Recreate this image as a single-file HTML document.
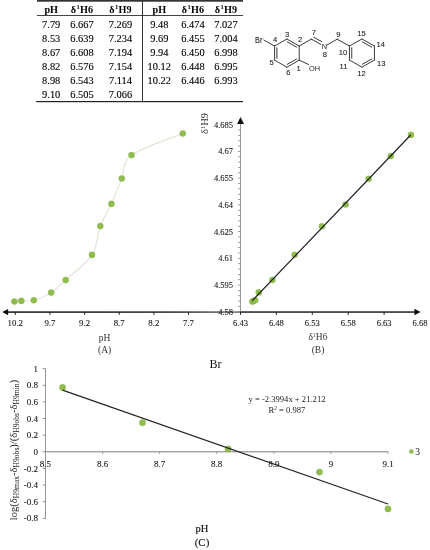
<!DOCTYPE html>
<html><head><meta charset="utf-8"><style>
html,body{margin:0;padding:0;background:#fff;width:430px;height:550px;overflow:hidden}
svg{display:block}
</style></head><body>
<svg width="430" height="550" viewBox="0 0 430 550">
<rect width="430" height="550" fill="#fff"/>
<rect x="37" y="0" width="206" height="1.7" fill="#333"/>
<rect x="37" y="15" width="206" height="1" fill="#444"/>
<rect x="36.2" y="101" width="206.8" height="1.2" fill="#222"/>
<rect x="142" y="1" width="1" height="101" fill="#333"/>
<text x="51.2" y="12.7" font-size="10.2" text-anchor="middle" font-weight="bold" fill="#000" font-family='"Liberation Serif", serif' >pH</text>
<text x="82" y="12.7" font-size="10.2" text-anchor="middle" font-weight="bold" fill="#000" font-family='"Liberation Serif", serif' >δ<tspan font-size="6.5" dy="-3.6" dx="0.4">1</tspan><tspan dy="3.6" dx="0.3">H6</tspan></text>
<text x="120.5" y="12.7" font-size="10.2" text-anchor="middle" font-weight="bold" fill="#000" font-family='"Liberation Serif", serif' >δ<tspan font-size="6.5" dy="-3.6" dx="0.4">1</tspan><tspan dy="3.6" dx="0.3">H9</tspan></text>
<text x="159.3" y="12.7" font-size="10.2" text-anchor="middle" font-weight="bold" fill="#000" font-family='"Liberation Serif", serif' >pH</text>
<text x="193" y="12.7" font-size="10.2" text-anchor="middle" font-weight="bold" fill="#000" font-family='"Liberation Serif", serif' >δ<tspan font-size="6.5" dy="-3.6" dx="0.4">1</tspan><tspan dy="3.6" dx="0.3">H6</tspan></text>
<text x="226" y="12.7" font-size="10.2" text-anchor="middle" font-weight="bold" fill="#000" font-family='"Liberation Serif", serif' >δ<tspan font-size="6.5" dy="-3.6" dx="0.4">1</tspan><tspan dy="3.6" dx="0.3">H9</tspan></text>
<text x="51.2" y="27.5" font-size="10.4" text-anchor="middle" font-weight="normal" fill="#000" stroke="#000" stroke-width="0.12" font-family='"Liberation Serif", serif' >7.79</text>
<text x="82" y="27.5" font-size="10.4" text-anchor="middle" font-weight="normal" fill="#000" stroke="#000" stroke-width="0.12" font-family='"Liberation Serif", serif' >6.667</text>
<text x="120.5" y="27.5" font-size="10.4" text-anchor="middle" font-weight="normal" fill="#000" stroke="#000" stroke-width="0.12" font-family='"Liberation Serif", serif' >7.269</text>
<text x="51.2" y="41.6" font-size="10.4" text-anchor="middle" font-weight="normal" fill="#000" stroke="#000" stroke-width="0.12" font-family='"Liberation Serif", serif' >8.53</text>
<text x="82" y="41.6" font-size="10.4" text-anchor="middle" font-weight="normal" fill="#000" stroke="#000" stroke-width="0.12" font-family='"Liberation Serif", serif' >6.639</text>
<text x="120.5" y="41.6" font-size="10.4" text-anchor="middle" font-weight="normal" fill="#000" stroke="#000" stroke-width="0.12" font-family='"Liberation Serif", serif' >7.234</text>
<text x="51.2" y="55.7" font-size="10.4" text-anchor="middle" font-weight="normal" fill="#000" stroke="#000" stroke-width="0.12" font-family='"Liberation Serif", serif' >8.67</text>
<text x="82" y="55.7" font-size="10.4" text-anchor="middle" font-weight="normal" fill="#000" stroke="#000" stroke-width="0.12" font-family='"Liberation Serif", serif' >6.608</text>
<text x="120.5" y="55.7" font-size="10.4" text-anchor="middle" font-weight="normal" fill="#000" stroke="#000" stroke-width="0.12" font-family='"Liberation Serif", serif' >7.194</text>
<text x="51.2" y="69.8" font-size="10.4" text-anchor="middle" font-weight="normal" fill="#000" stroke="#000" stroke-width="0.12" font-family='"Liberation Serif", serif' >8.82</text>
<text x="82" y="69.8" font-size="10.4" text-anchor="middle" font-weight="normal" fill="#000" stroke="#000" stroke-width="0.12" font-family='"Liberation Serif", serif' >6.576</text>
<text x="120.5" y="69.8" font-size="10.4" text-anchor="middle" font-weight="normal" fill="#000" stroke="#000" stroke-width="0.12" font-family='"Liberation Serif", serif' >7.154</text>
<text x="51.2" y="83.9" font-size="10.4" text-anchor="middle" font-weight="normal" fill="#000" stroke="#000" stroke-width="0.12" font-family='"Liberation Serif", serif' >8.98</text>
<text x="82" y="83.9" font-size="10.4" text-anchor="middle" font-weight="normal" fill="#000" stroke="#000" stroke-width="0.12" font-family='"Liberation Serif", serif' >6.543</text>
<text x="120.5" y="83.9" font-size="10.4" text-anchor="middle" font-weight="normal" fill="#000" stroke="#000" stroke-width="0.12" font-family='"Liberation Serif", serif' >7.114</text>
<text x="51.2" y="98.0" font-size="10.4" text-anchor="middle" font-weight="normal" fill="#000" stroke="#000" stroke-width="0.12" font-family='"Liberation Serif", serif' >9.10</text>
<text x="82" y="98.0" font-size="10.4" text-anchor="middle" font-weight="normal" fill="#000" stroke="#000" stroke-width="0.12" font-family='"Liberation Serif", serif' >6.505</text>
<text x="120.5" y="98.0" font-size="10.4" text-anchor="middle" font-weight="normal" fill="#000" stroke="#000" stroke-width="0.12" font-family='"Liberation Serif", serif' >7.066</text>
<text x="159.3" y="27.5" font-size="10.4" text-anchor="middle" font-weight="normal" fill="#000" stroke="#000" stroke-width="0.12" font-family='"Liberation Serif", serif' >9.48</text>
<text x="193" y="27.5" font-size="10.4" text-anchor="middle" font-weight="normal" fill="#000" stroke="#000" stroke-width="0.12" font-family='"Liberation Serif", serif' >6.474</text>
<text x="226" y="27.5" font-size="10.4" text-anchor="middle" font-weight="normal" fill="#000" stroke="#000" stroke-width="0.12" font-family='"Liberation Serif", serif' >7.027</text>
<text x="159.3" y="41.6" font-size="10.4" text-anchor="middle" font-weight="normal" fill="#000" stroke="#000" stroke-width="0.12" font-family='"Liberation Serif", serif' >9.69</text>
<text x="193" y="41.6" font-size="10.4" text-anchor="middle" font-weight="normal" fill="#000" stroke="#000" stroke-width="0.12" font-family='"Liberation Serif", serif' >6.455</text>
<text x="226" y="41.6" font-size="10.4" text-anchor="middle" font-weight="normal" fill="#000" stroke="#000" stroke-width="0.12" font-family='"Liberation Serif", serif' >7.004</text>
<text x="159.3" y="55.7" font-size="10.4" text-anchor="middle" font-weight="normal" fill="#000" stroke="#000" stroke-width="0.12" font-family='"Liberation Serif", serif' >9.94</text>
<text x="193" y="55.7" font-size="10.4" text-anchor="middle" font-weight="normal" fill="#000" stroke="#000" stroke-width="0.12" font-family='"Liberation Serif", serif' >6.450</text>
<text x="226" y="55.7" font-size="10.4" text-anchor="middle" font-weight="normal" fill="#000" stroke="#000" stroke-width="0.12" font-family='"Liberation Serif", serif' >6.998</text>
<text x="159.3" y="69.8" font-size="10.4" text-anchor="middle" font-weight="normal" fill="#000" stroke="#000" stroke-width="0.12" font-family='"Liberation Serif", serif' >10.12</text>
<text x="193" y="69.8" font-size="10.4" text-anchor="middle" font-weight="normal" fill="#000" stroke="#000" stroke-width="0.12" font-family='"Liberation Serif", serif' >6.448</text>
<text x="226" y="69.8" font-size="10.4" text-anchor="middle" font-weight="normal" fill="#000" stroke="#000" stroke-width="0.12" font-family='"Liberation Serif", serif' >6.995</text>
<text x="159.3" y="83.9" font-size="10.4" text-anchor="middle" font-weight="normal" fill="#000" stroke="#000" stroke-width="0.12" font-family='"Liberation Serif", serif' >10.22</text>
<text x="193" y="83.9" font-size="10.4" text-anchor="middle" font-weight="normal" fill="#000" stroke="#000" stroke-width="0.12" font-family='"Liberation Serif", serif' >6.446</text>
<text x="226" y="83.9" font-size="10.4" text-anchor="middle" font-weight="normal" fill="#000" stroke="#000" stroke-width="0.12" font-family='"Liberation Serif", serif' >6.993</text>
<line x1="286.90" y1="39.00" x2="299.20" y2="46.05" stroke="#3a3a3a" stroke-width="1.0" stroke-linecap="round"/>
<line x1="361.95" y1="39.00" x2="374.45" y2="46.02" stroke="#3a3a3a" stroke-width="1.0" stroke-linecap="round"/>
<line x1="299.20" y1="46.05" x2="299.20" y2="60.15" stroke="#3a3a3a" stroke-width="1.0" stroke-linecap="round"/>
<line x1="374.45" y1="46.02" x2="374.45" y2="60.07" stroke="#3a3a3a" stroke-width="1.0" stroke-linecap="round"/>
<line x1="299.20" y1="60.15" x2="286.90" y2="67.20" stroke="#3a3a3a" stroke-width="1.0" stroke-linecap="round"/>
<line x1="374.45" y1="60.07" x2="361.95" y2="67.10" stroke="#3a3a3a" stroke-width="1.0" stroke-linecap="round"/>
<line x1="286.90" y1="67.20" x2="274.60" y2="60.15" stroke="#3a3a3a" stroke-width="1.0" stroke-linecap="round"/>
<line x1="361.95" y1="67.10" x2="349.45" y2="60.07" stroke="#3a3a3a" stroke-width="1.0" stroke-linecap="round"/>
<line x1="274.60" y1="60.15" x2="274.60" y2="46.05" stroke="#3a3a3a" stroke-width="1.0" stroke-linecap="round"/>
<line x1="349.45" y1="60.07" x2="349.45" y2="46.02" stroke="#3a3a3a" stroke-width="1.0" stroke-linecap="round"/>
<line x1="274.60" y1="46.05" x2="286.90" y2="39.00" stroke="#3a3a3a" stroke-width="1.0" stroke-linecap="round"/>
<line x1="349.45" y1="46.02" x2="361.95" y2="39.00" stroke="#3a3a3a" stroke-width="1.0" stroke-linecap="round"/>
<line x1="287.22" y1="41.83" x2="296.57" y2="47.19" stroke="#3a3a3a" stroke-width="1.0" stroke-linecap="round"/>
<line x1="296.57" y1="59.01" x2="287.22" y2="64.37" stroke="#3a3a3a" stroke-width="1.0" stroke-linecap="round"/>
<line x1="276.90" y1="58.46" x2="276.90" y2="47.74" stroke="#3a3a3a" stroke-width="1.0" stroke-linecap="round"/>
<line x1="362.28" y1="41.82" x2="371.78" y2="47.16" stroke="#3a3a3a" stroke-width="1.0" stroke-linecap="round"/>
<line x1="371.78" y1="58.94" x2="362.28" y2="64.28" stroke="#3a3a3a" stroke-width="1.0" stroke-linecap="round"/>
<line x1="351.75" y1="58.39" x2="351.75" y2="47.71" stroke="#3a3a3a" stroke-width="1.0" stroke-linecap="round"/>
<line x1="299.20" y1="46.05" x2="311.40" y2="39.10" stroke="#3a3a3a" stroke-width="1.0" stroke-linecap="round"/>
<line x1="311.40" y1="39.10" x2="320.60" y2="44.30" stroke="#3a3a3a" stroke-width="1.0" stroke-linecap="round"/>
<line x1="313.60" y1="37.20" x2="321.70" y2="41.60" stroke="#3a3a3a" stroke-width="1.0" stroke-linecap="round"/>
<line x1="326.80" y1="45.20" x2="337.10" y2="39.20" stroke="#3a3a3a" stroke-width="1.0" stroke-linecap="round"/>
<line x1="337.10" y1="39.20" x2="349.45" y2="46.02" stroke="#3a3a3a" stroke-width="1.0" stroke-linecap="round"/>
<line x1="274.60" y1="46.05" x2="263.80" y2="40.00" stroke="#3a3a3a" stroke-width="1.0" stroke-linecap="round"/>
<line x1="299.20" y1="60.15" x2="308.60" y2="64.50" stroke="#3a3a3a" stroke-width="1.0" stroke-linecap="round"/>
<text x="255.1" y="42.6" font-size="8.4" text-anchor="start" font-weight="normal" fill="#222" stroke="#222" stroke-width="0.1" font-family='"Liberation Sans", sans-serif' textLength="7.3" lengthAdjust="spacingAndGlyphs">Br</text>
<text x="324.4" y="49.2" font-size="7.4" text-anchor="middle" font-weight="normal" fill="#222" font-family='"Liberation Sans", sans-serif' >N</text>
<text x="314.6" y="70.8" font-size="7.4" text-anchor="middle" font-weight="normal" fill="#222" font-family='"Liberation Sans", sans-serif' >OH</text>
<text x="300" y="42.25" font-size="7.6" text-anchor="middle" font-weight="normal" fill="#222" stroke="#222" stroke-width="0.1" font-family='"Liberation Sans", sans-serif' >2</text>
<text x="287.2" y="37.05" font-size="7.6" text-anchor="middle" font-weight="normal" fill="#222" stroke="#222" stroke-width="0.1" font-family='"Liberation Sans", sans-serif' >3</text>
<text x="275" y="42.25" font-size="7.6" text-anchor="middle" font-weight="normal" fill="#222" stroke="#222" stroke-width="0.1" font-family='"Liberation Sans", sans-serif' >4</text>
<text x="271.5" y="64.95" font-size="7.6" text-anchor="middle" font-weight="normal" fill="#222" stroke="#222" stroke-width="0.1" font-family='"Liberation Sans", sans-serif' >5</text>
<text x="288.4" y="75.45" font-size="7.6" text-anchor="middle" font-weight="normal" fill="#222" stroke="#222" stroke-width="0.1" font-family='"Liberation Sans", sans-serif' >6</text>
<text x="298.6" y="71.15" font-size="7.6" text-anchor="middle" font-weight="normal" fill="#222" stroke="#222" stroke-width="0.1" font-family='"Liberation Sans", sans-serif' >1</text>
<text x="313.9" y="35.45" font-size="7.6" text-anchor="middle" font-weight="normal" fill="#222" stroke="#222" stroke-width="0.1" font-family='"Liberation Sans", sans-serif' >7</text>
<text x="324.9" y="57.35" font-size="7.6" text-anchor="middle" font-weight="normal" fill="#222" stroke="#222" stroke-width="0.1" font-family='"Liberation Sans", sans-serif' >8</text>
<text x="338.3" y="36.75" font-size="7.6" text-anchor="middle" font-weight="normal" fill="#222" stroke="#222" stroke-width="0.1" font-family='"Liberation Sans", sans-serif' >9</text>
<text x="342.9" y="54.75" font-size="7.6" text-anchor="middle" font-weight="normal" fill="#222" stroke="#222" stroke-width="0.1" font-family='"Liberation Sans", sans-serif' >10</text>
<text x="343.5" y="68.75" font-size="7.6" text-anchor="middle" font-weight="normal" fill="#222" stroke="#222" stroke-width="0.1" font-family='"Liberation Sans", sans-serif' >11</text>
<text x="361.5" y="75.75" font-size="7.6" text-anchor="middle" font-weight="normal" fill="#222" stroke="#222" stroke-width="0.1" font-family='"Liberation Sans", sans-serif' >12</text>
<text x="381.3" y="65.55" font-size="7.6" text-anchor="middle" font-weight="normal" fill="#222" stroke="#222" stroke-width="0.1" font-family='"Liberation Sans", sans-serif' >13</text>
<text x="380.7" y="46.95" font-size="7.6" text-anchor="middle" font-weight="normal" fill="#222" stroke="#222" stroke-width="0.1" font-family='"Liberation Sans", sans-serif' >14</text>
<text x="361.5" y="36.45" font-size="7.6" text-anchor="middle" font-weight="normal" fill="#222" stroke="#222" stroke-width="0.1" font-family='"Liberation Sans", sans-serif' >15</text>
<path d="M14.41,301.50 C15.57,301.40 18.11,301.10 21.34,300.90 C24.58,300.70 28.85,301.68 33.81,300.30 C38.78,298.92 45.82,295.97 51.13,292.60 C56.44,289.23 58.87,286.38 65.68,280.10 C72.49,273.82 86.23,263.90 92.01,254.90 C97.78,245.90 97.09,234.60 100.32,226.10 C103.55,217.60 107.83,211.83 111.41,203.90 C114.99,195.97 118.45,186.63 121.80,178.50 C125.15,170.37 121.34,162.60 131.50,155.10 C141.66,147.60 174.22,137.10 182.76,133.50" fill="none" stroke="#e1e4d2" stroke-width="1.1"/>
<circle cx="14.41" cy="301.50" r="3.05" fill="#8fbc4c" stroke="#86b244" stroke-width="0.4"/>
<circle cx="21.34" cy="300.90" r="3.05" fill="#8fbc4c" stroke="#86b244" stroke-width="0.4"/>
<circle cx="33.81" cy="300.30" r="3.05" fill="#8fbc4c" stroke="#86b244" stroke-width="0.4"/>
<circle cx="51.13" cy="292.60" r="3.05" fill="#8fbc4c" stroke="#86b244" stroke-width="0.4"/>
<circle cx="65.68" cy="280.10" r="3.05" fill="#8fbc4c" stroke="#86b244" stroke-width="0.4"/>
<circle cx="92.01" cy="254.90" r="3.05" fill="#8fbc4c" stroke="#86b244" stroke-width="0.4"/>
<circle cx="100.32" cy="226.10" r="3.05" fill="#8fbc4c" stroke="#86b244" stroke-width="0.4"/>
<circle cx="111.41" cy="203.90" r="3.05" fill="#8fbc4c" stroke="#86b244" stroke-width="0.4"/>
<circle cx="121.80" cy="178.50" r="3.05" fill="#8fbc4c" stroke="#86b244" stroke-width="0.4"/>
<circle cx="131.50" cy="155.10" r="3.05" fill="#8fbc4c" stroke="#86b244" stroke-width="0.4"/>
<circle cx="182.76" cy="133.50" r="3.05" fill="#8fbc4c" stroke="#86b244" stroke-width="0.4"/>
<defs><linearGradient id="ga" x1="0" x2="1" y1="0" y2="0"><stop offset="0" stop-color="#222"/><stop offset="0.7" stop-color="#333"/><stop offset="1" stop-color="#777"/></linearGradient></defs>
<rect x="6" y="311.3" width="234.5" height="1.6" fill="url(#ga)"/>
<path d="M2.2,312.1 L8.1,308.9 L8.1,315.3 Z" fill="#111"/>
<rect x="14.80" y="312" width="1" height="2.8" fill="#222"/>
<text x="15.30" y="325.8" font-size="8.8" text-anchor="middle" font-weight="normal" fill="#1a1a1a" stroke="#1a1a1a" stroke-width="0.1" font-family='"Liberation Serif", serif' >10.2</text>
<rect x="49.44" y="312" width="1" height="2.8" fill="#222"/>
<text x="49.94" y="325.8" font-size="8.8" text-anchor="middle" font-weight="normal" fill="#1a1a1a" stroke="#1a1a1a" stroke-width="0.1" font-family='"Liberation Serif", serif' >9.7</text>
<rect x="84.08" y="312" width="1" height="2.8" fill="#222"/>
<text x="84.58" y="325.8" font-size="8.8" text-anchor="middle" font-weight="normal" fill="#1a1a1a" stroke="#1a1a1a" stroke-width="0.1" font-family='"Liberation Serif", serif' >9.2</text>
<rect x="118.72" y="312" width="1" height="2.8" fill="#222"/>
<text x="119.22" y="325.8" font-size="8.8" text-anchor="middle" font-weight="normal" fill="#1a1a1a" stroke="#1a1a1a" stroke-width="0.1" font-family='"Liberation Serif", serif' >8.7</text>
<rect x="153.36" y="312" width="1" height="2.8" fill="#222"/>
<text x="153.86" y="325.8" font-size="8.8" text-anchor="middle" font-weight="normal" fill="#1a1a1a" stroke="#1a1a1a" stroke-width="0.1" font-family='"Liberation Serif", serif' >8.2</text>
<rect x="188.00" y="312" width="1" height="2.8" fill="#222"/>
<text x="188.50" y="325.8" font-size="8.8" text-anchor="middle" font-weight="normal" fill="#1a1a1a" stroke="#1a1a1a" stroke-width="0.1" font-family='"Liberation Serif", serif' >7.7</text>
<text x="104.6" y="340.6" font-size="9.5" text-anchor="middle" font-weight="normal" fill="#333" font-family='"Liberation Serif", serif' >pH</text>
<text x="104.6" y="352.5" font-size="9.5" text-anchor="middle" font-weight="normal" fill="#333" font-family='"Liberation Serif", serif' >(A)</text>
<rect x="240" y="123" width="1" height="189" fill="#999"/>
<path d="M240.5,117 L237.1,124 L244,124 Z" fill="#111"/>
<rect x="238" y="311.40" width="2.4" height="0.8" fill="#888"/>
<rect x="238" y="306.05" width="2.4" height="0.8" fill="#888"/>
<rect x="238" y="300.71" width="2.4" height="0.8" fill="#888"/>
<rect x="238" y="295.36" width="2.4" height="0.8" fill="#888"/>
<rect x="238" y="290.02" width="2.4" height="0.8" fill="#888"/>
<rect x="238" y="284.67" width="2.4" height="0.8" fill="#888"/>
<rect x="238" y="279.32" width="2.4" height="0.8" fill="#888"/>
<rect x="238" y="273.98" width="2.4" height="0.8" fill="#888"/>
<rect x="238" y="268.63" width="2.4" height="0.8" fill="#888"/>
<rect x="238" y="263.29" width="2.4" height="0.8" fill="#888"/>
<rect x="238" y="257.94" width="2.4" height="0.8" fill="#888"/>
<rect x="238" y="252.59" width="2.4" height="0.8" fill="#888"/>
<rect x="238" y="247.25" width="2.4" height="0.8" fill="#888"/>
<rect x="238" y="241.90" width="2.4" height="0.8" fill="#888"/>
<rect x="238" y="236.56" width="2.4" height="0.8" fill="#888"/>
<rect x="238" y="231.21" width="2.4" height="0.8" fill="#888"/>
<rect x="238" y="225.86" width="2.4" height="0.8" fill="#888"/>
<rect x="238" y="220.52" width="2.4" height="0.8" fill="#888"/>
<rect x="238" y="215.17" width="2.4" height="0.8" fill="#888"/>
<rect x="238" y="209.83" width="2.4" height="0.8" fill="#888"/>
<rect x="238" y="204.48" width="2.4" height="0.8" fill="#888"/>
<rect x="238" y="199.13" width="2.4" height="0.8" fill="#888"/>
<rect x="238" y="193.79" width="2.4" height="0.8" fill="#888"/>
<rect x="238" y="188.44" width="2.4" height="0.8" fill="#888"/>
<rect x="238" y="183.10" width="2.4" height="0.8" fill="#888"/>
<rect x="238" y="177.75" width="2.4" height="0.8" fill="#888"/>
<rect x="238" y="172.40" width="2.4" height="0.8" fill="#888"/>
<rect x="238" y="167.06" width="2.4" height="0.8" fill="#888"/>
<rect x="238" y="161.71" width="2.4" height="0.8" fill="#888"/>
<rect x="238" y="156.37" width="2.4" height="0.8" fill="#888"/>
<rect x="238" y="151.02" width="2.4" height="0.8" fill="#888"/>
<rect x="238" y="145.67" width="2.4" height="0.8" fill="#888"/>
<rect x="238" y="140.33" width="2.4" height="0.8" fill="#888"/>
<rect x="238" y="134.98" width="2.4" height="0.8" fill="#888"/>
<rect x="238" y="129.64" width="2.4" height="0.8" fill="#888"/>
<text x="233" y="314.70" font-size="8.5" text-anchor="end" font-weight="normal" fill="#1a1a1a" stroke="#1a1a1a" stroke-width="0.1" font-family='"Liberation Serif", serif' >4.58</text>
<text x="233" y="287.97" font-size="8.5" text-anchor="end" font-weight="normal" fill="#1a1a1a" stroke="#1a1a1a" stroke-width="0.1" font-family='"Liberation Serif", serif' >4.595</text>
<text x="233" y="261.24" font-size="8.5" text-anchor="end" font-weight="normal" fill="#1a1a1a" stroke="#1a1a1a" stroke-width="0.1" font-family='"Liberation Serif", serif' >4.61</text>
<text x="233" y="234.51" font-size="8.5" text-anchor="end" font-weight="normal" fill="#1a1a1a" stroke="#1a1a1a" stroke-width="0.1" font-family='"Liberation Serif", serif' >4.625</text>
<text x="233" y="207.78" font-size="8.5" text-anchor="end" font-weight="normal" fill="#1a1a1a" stroke="#1a1a1a" stroke-width="0.1" font-family='"Liberation Serif", serif' >4.64</text>
<text x="233" y="181.05" font-size="8.5" text-anchor="end" font-weight="normal" fill="#1a1a1a" stroke="#1a1a1a" stroke-width="0.1" font-family='"Liberation Serif", serif' >4.655</text>
<text x="233" y="154.32" font-size="8.5" text-anchor="end" font-weight="normal" fill="#1a1a1a" stroke="#1a1a1a" stroke-width="0.1" font-family='"Liberation Serif", serif' >4.67</text>
<text x="233" y="127.59" font-size="8.5" text-anchor="end" font-weight="normal" fill="#1a1a1a" stroke="#1a1a1a" stroke-width="0.1" font-family='"Liberation Serif", serif' >4.685</text>
<rect x="240.5" y="311.3" width="175" height="1.5" fill="#222"/>
<path d="M420.5,312 L414.4,308.7 L414.4,315.2 Z" fill="#111"/>
<rect x="240.00" y="312" width="1" height="2.8" fill="#222"/>
<text x="240.50" y="325.7" font-size="8.5" text-anchor="middle" font-weight="normal" fill="#1a1a1a" stroke="#1a1a1a" stroke-width="0.1" font-family='"Liberation Serif", serif' >6.43</text>
<rect x="275.90" y="312" width="1" height="2.8" fill="#222"/>
<text x="276.40" y="325.7" font-size="8.5" text-anchor="middle" font-weight="normal" fill="#1a1a1a" stroke="#1a1a1a" stroke-width="0.1" font-family='"Liberation Serif", serif' >6.48</text>
<rect x="311.80" y="312" width="1" height="2.8" fill="#222"/>
<text x="312.30" y="325.7" font-size="8.5" text-anchor="middle" font-weight="normal" fill="#1a1a1a" stroke="#1a1a1a" stroke-width="0.1" font-family='"Liberation Serif", serif' >6.53</text>
<rect x="347.70" y="312" width="1" height="2.8" fill="#222"/>
<text x="348.20" y="325.7" font-size="8.5" text-anchor="middle" font-weight="normal" fill="#1a1a1a" stroke="#1a1a1a" stroke-width="0.1" font-family='"Liberation Serif", serif' >6.58</text>
<rect x="383.60" y="312" width="1" height="2.8" fill="#222"/>
<text x="384.10" y="325.7" font-size="8.5" text-anchor="middle" font-weight="normal" fill="#1a1a1a" stroke="#1a1a1a" stroke-width="0.1" font-family='"Liberation Serif", serif' >6.63</text>
<text x="420.00" y="325.7" font-size="8.5" text-anchor="middle" font-weight="normal" fill="#1a1a1a" stroke="#1a1a1a" stroke-width="0.1" font-family='"Liberation Serif", serif' >6.68</text>

<circle cx="252.29" cy="301.60" r="3.05" fill="#8fbc4c" stroke="#86b244" stroke-width="0.4"/>
<circle cx="253.72" cy="301.00" r="3.05" fill="#8fbc4c" stroke="#86b244" stroke-width="0.4"/>
<circle cx="255.16" cy="300.20" r="3.05" fill="#8fbc4c" stroke="#86b244" stroke-width="0.4"/>
<circle cx="258.75" cy="292.40" r="3.05" fill="#8fbc4c" stroke="#86b244" stroke-width="0.4"/>
<circle cx="272.39" cy="280.00" r="3.05" fill="#8fbc4c" stroke="#86b244" stroke-width="0.4"/>
<circle cx="294.65" cy="254.80" r="3.05" fill="#8fbc4c" stroke="#86b244" stroke-width="0.4"/>
<circle cx="321.93" cy="226.30" r="3.05" fill="#8fbc4c" stroke="#86b244" stroke-width="0.4"/>
<circle cx="345.63" cy="204.50" r="3.05" fill="#8fbc4c" stroke="#86b244" stroke-width="0.4"/>
<circle cx="368.60" cy="178.70" r="3.05" fill="#8fbc4c" stroke="#86b244" stroke-width="0.4"/>
<circle cx="390.86" cy="156.10" r="3.05" fill="#8fbc4c" stroke="#86b244" stroke-width="0.4"/>
<circle cx="410.97" cy="134.90" r="3.05" fill="#8fbc4c" stroke="#86b244" stroke-width="0.4"/>
<line x1="252.1" y1="300.9" x2="410.7" y2="135.0" stroke="#1a1a1a" stroke-width="1.15"/>
<text x="318" y="340.3" font-size="9.5" text-anchor="middle" font-weight="normal" fill="#333" font-family='"Liberation Serif", serif' >δ<tspan font-size="5.5" dy="-3">1</tspan><tspan dy="3">H6</tspan></text>
<text x="318" y="352.5" font-size="9.5" text-anchor="middle" font-weight="normal" fill="#333" font-family='"Liberation Serif", serif' >(B)</text>
<text x="0" y="0" font-size="10.5" text-anchor="middle" font-weight="normal" fill="#333" font-family='"Liberation Serif", serif' transform="translate(208.4,123.4) rotate(-90)">δ<tspan font-size="6.5" dy="-3.5">1</tspan><tspan dy="3.5">H9</tspan></text>
<text x="215.4" y="367.6" font-size="12" text-anchor="middle" font-weight="normal" fill="#111" font-family='"Liberation Serif", serif' >Br</text>
<rect x="45" y="368.6" width="0.9" height="150.2" fill="#888"/>
<rect x="42.6" y="368.15" width="2.8" height="0.9" fill="#888"/>
<text x="38" y="371.70" font-size="9" text-anchor="end" font-weight="normal" fill="#1a1a1a" stroke="#1a1a1a" stroke-width="0.1" font-family='"Liberation Serif", serif' >1</text>
<rect x="42.6" y="384.79" width="2.8" height="0.9" fill="#888"/>
<text x="38" y="388.34" font-size="9" text-anchor="end" font-weight="normal" fill="#1a1a1a" stroke="#1a1a1a" stroke-width="0.1" font-family='"Liberation Serif", serif' >0.8</text>
<rect x="42.6" y="401.43" width="2.8" height="0.9" fill="#888"/>
<text x="38" y="404.98" font-size="9" text-anchor="end" font-weight="normal" fill="#1a1a1a" stroke="#1a1a1a" stroke-width="0.1" font-family='"Liberation Serif", serif' >0.6</text>
<rect x="42.6" y="418.07" width="2.8" height="0.9" fill="#888"/>
<text x="38" y="421.62" font-size="9" text-anchor="end" font-weight="normal" fill="#1a1a1a" stroke="#1a1a1a" stroke-width="0.1" font-family='"Liberation Serif", serif' >0.4</text>
<rect x="42.6" y="434.71" width="2.8" height="0.9" fill="#888"/>
<text x="38" y="438.26" font-size="9" text-anchor="end" font-weight="normal" fill="#1a1a1a" stroke="#1a1a1a" stroke-width="0.1" font-family='"Liberation Serif", serif' >0.2</text>
<rect x="42.6" y="451.35" width="2.8" height="0.9" fill="#888"/>
<text x="38" y="454.90" font-size="9" text-anchor="end" font-weight="normal" fill="#1a1a1a" stroke="#1a1a1a" stroke-width="0.1" font-family='"Liberation Serif", serif' >0</text>
<rect x="42.6" y="467.99" width="2.8" height="0.9" fill="#888"/>
<text x="38" y="471.54" font-size="9" text-anchor="end" font-weight="normal" fill="#1a1a1a" stroke="#1a1a1a" stroke-width="0.1" font-family='"Liberation Serif", serif' >-0.2</text>
<rect x="42.6" y="484.63" width="2.8" height="0.9" fill="#888"/>
<text x="38" y="488.18" font-size="9" text-anchor="end" font-weight="normal" fill="#1a1a1a" stroke="#1a1a1a" stroke-width="0.1" font-family='"Liberation Serif", serif' >-0.4</text>
<rect x="42.6" y="501.27" width="2.8" height="0.9" fill="#888"/>
<text x="38" y="504.82" font-size="9" text-anchor="end" font-weight="normal" fill="#1a1a1a" stroke="#1a1a1a" stroke-width="0.1" font-family='"Liberation Serif", serif' >-0.6</text>
<rect x="42.6" y="517.91" width="2.8" height="0.9" fill="#888"/>
<text x="38" y="521.46" font-size="9" text-anchor="end" font-weight="normal" fill="#1a1a1a" stroke="#1a1a1a" stroke-width="0.1" font-family='"Liberation Serif", serif' >-0.8</text>
<rect x="45.4" y="451.1" width="342.6" height="1.3" fill="#999"/>
<rect x="45.00" y="451.5" width="0.9" height="2.6" fill="#999"/>
<text x="45.40" y="467" font-size="9" text-anchor="middle" font-weight="normal" fill="#1a1a1a" stroke="#1a1a1a" stroke-width="0.1" font-family='"Liberation Serif", serif' >8.5</text>
<rect x="102.10" y="451.5" width="0.9" height="2.6" fill="#999"/>
<text x="102.50" y="467" font-size="9" text-anchor="middle" font-weight="normal" fill="#1a1a1a" stroke="#1a1a1a" stroke-width="0.1" font-family='"Liberation Serif", serif' >8.6</text>
<rect x="159.20" y="451.5" width="0.9" height="2.6" fill="#999"/>
<text x="159.60" y="467" font-size="9" text-anchor="middle" font-weight="normal" fill="#1a1a1a" stroke="#1a1a1a" stroke-width="0.1" font-family='"Liberation Serif", serif' >8.7</text>
<rect x="216.30" y="451.5" width="0.9" height="2.6" fill="#999"/>
<text x="216.70" y="467" font-size="9" text-anchor="middle" font-weight="normal" fill="#1a1a1a" stroke="#1a1a1a" stroke-width="0.1" font-family='"Liberation Serif", serif' >8.8</text>
<rect x="273.40" y="451.5" width="0.9" height="2.6" fill="#999"/>
<text x="273.80" y="467" font-size="9" text-anchor="middle" font-weight="normal" fill="#1a1a1a" stroke="#1a1a1a" stroke-width="0.1" font-family='"Liberation Serif", serif' >8.9</text>
<rect x="330.50" y="451.5" width="0.9" height="2.6" fill="#999"/>
<text x="330.90" y="467" font-size="9" text-anchor="middle" font-weight="normal" fill="#1a1a1a" stroke="#1a1a1a" stroke-width="0.1" font-family='"Liberation Serif", serif' >9</text>
<rect x="387.60" y="451.5" width="0.9" height="2.6" fill="#999"/>
<text x="388.00" y="467" font-size="9" text-anchor="middle" font-weight="normal" fill="#1a1a1a" stroke="#1a1a1a" stroke-width="0.1" font-family='"Liberation Serif", serif' >9.1</text>
<circle cx="62.53" cy="387.5" r="3.15" fill="#8fbc4c" stroke="#86b244" stroke-width="0.4"/>
<circle cx="142.47" cy="422.7" r="3.15" fill="#8fbc4c" stroke="#86b244" stroke-width="0.4"/>
<circle cx="228.12" cy="448.9" r="3.15" fill="#8fbc4c" stroke="#86b244" stroke-width="0.4"/>
<circle cx="319.48" cy="472.1" r="3.15" fill="#8fbc4c" stroke="#86b244" stroke-width="0.4"/>
<circle cx="388.00" cy="508.9" r="3.15" fill="#8fbc4c" stroke="#86b244" stroke-width="0.4"/>
<line x1="62.53" y1="390.11" x2="388.00" y2="504.00" stroke="#222" stroke-width="1.1"/>
<text x="287" y="402.1" font-size="8.6" text-anchor="middle" font-weight="normal" fill="#222" font-family='"Liberation Serif", serif' >y = -2.3994x + 21.212</text>
<text x="287" y="413" font-size="8.6" text-anchor="middle" font-weight="normal" fill="#222" font-family='"Liberation Serif", serif' >R<tspan font-size="5.2" dy="-3">2</tspan><tspan dy="3"> = 0.987</tspan></text>
<circle cx="411.3" cy="451.5" r="2.3" fill="#8fbc4c"/>
<text x="415.2" y="454.9" font-size="9.5" text-anchor="start" font-weight="normal" fill="#222" font-family='"Liberation Serif", serif' >3</text>
<text x="202" y="532" font-size="10.5" text-anchor="middle" font-weight="normal" fill="#111" stroke="#111" stroke-width="0.15" font-family='"Liberation Serif", serif' >pH</text>
<text x="202" y="546" font-size="11" text-anchor="middle" font-weight="normal" fill="#111" stroke="#111" stroke-width="0.1" font-family='"Liberation Serif", serif' >(C)</text>
<text x="0" y="0" font-size="10.5" text-anchor="middle" font-weight="normal" fill="#222" font-family='"Liberation Serif", serif' transform="translate(17.2,450) rotate(-90)">log(δ<tspan font-size="7.6" dy="1.9">H9max</tspan><tspan dy="-1.9">-δ</tspan><tspan font-size="7.6" dy="1.9">H9obs</tspan><tspan dy="-1.9">)/(δ</tspan><tspan font-size="7.6" dy="1.9">H9obs</tspan><tspan dy="-1.9">-δ</tspan><tspan font-size="7.6" dy="1.9">H9min</tspan><tspan dy="-1.9">)</tspan></text>
</svg>
</body></html>
